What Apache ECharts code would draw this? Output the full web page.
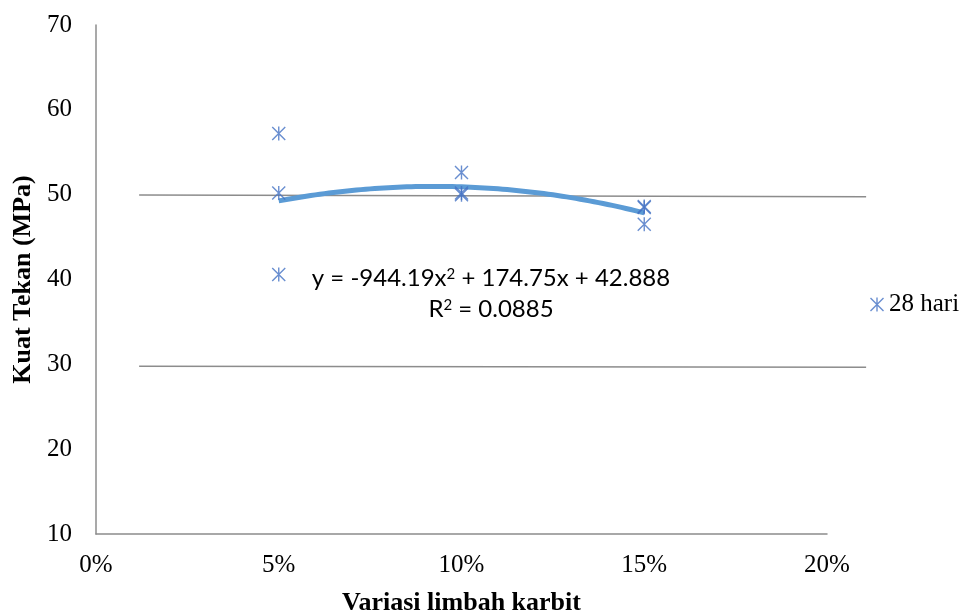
<!DOCTYPE html>
<html>
<head>
<meta charset="utf-8">
<script src="https://cdn.jsdelivr.net/npm/echarts@6/dist/echarts.min.js"></script>
<style>
  html, body { margin: 0; padding: 0; background: #fff; }
  #chart { width: 967px; height: 615px; }
</style>
</head>
<body>
<div id="chart"></div>
<script>
// Compressive strength at 28 days vs. carbide waste content
const limbah = [0.05, 0.05, 0.05, 0.10, 0.10, 0.10, 0.15, 0.15, 0.15];
const kuatTekan = [57.2, 50.2, 40.6, 52.6, 50.0, 50.2, 48.5, 46.5, 48.6];

// Polynomial trendline coefficients (a x^2 + b x + c) and fit quality
const trendCoef = [-944.19, 174.75, 42.888];
const trendR2 = 0.0885;
const trendRange = [0.05, 0.15];

// Hand-drawn guide lines: [x0, y0, x1, y1]
const guideLines = [
  [0.0118, 49.95, 0.2107, 49.75],
  [0.0118, 29.78, 0.2107, 29.66]
];

const yTicks = [10, 20, 30, 40, 50, 60, 70];
const xTicks = [0, 0.05, 0.10, 0.15, 0.20];

const seriesName = '28 hari';
const xTitle = 'Variasi limbah karbit';
const yTitle = 'Kuat Tekan (MPa)';

const starPath = 'path://M5.4 0H6.6V12H5.4Z M0 0.85L0.85 0L12 11.15L11.15 12Z M11.15 0L12 0.85L0.85 12L0 11.15Z';

const scatterData = limbah.map((x, i) => [x, kuatTekan[i]]);

const trendData = [];
for (let k = 0; k <= 40; k++) {
  const x = trendRange[0] + (trendRange[1] - trendRange[0]) * k / 40;
  trendData.push([x, trendCoef[0] * x * x + trendCoef[1] * x + trendCoef[2]]);
}

const fmt = (v, d) => v.toFixed(d);
const eqText = 'y = ' + fmt(trendCoef[0], 2) + 'x{sup|2} + ' + fmt(trendCoef[1], 2) + 'x + ' + fmt(trendCoef[2], 3);
const r2Text = 'R{sup|2} = ' + fmt(trendR2, 4);

const serif = '"Liberation Serif", "Times New Roman", serif';
const sans = 'Lato, "Open Sans", sans-serif';
const axisGray = '#8c8c8c';

const chart = echarts.init(document.getElementById('chart'), null, { renderer: 'canvas' });

chart.setOption({
  animation: false,
  backgroundColor: '#fff',
  grid: { left: 96, top: 25, width: 731, height: 509, outerBoundsMode: 'none', containLabel: false },
  legend: {
    data: [{ name: seriesName, icon: starPath }],
    left: 865,
    top: 287,
    itemWidth: 14,
    itemHeight: 14,
    textStyle: { fontFamily: serif, fontSize: 25, color: '#000' }
  },
  xAxis: {
    type: 'value',
    min: xTicks[0],
    max: xTicks[xTicks.length - 1],
    interval: 0.05,
    name: xTitle,
    nameLocation: 'middle',
    nameGap: 56,
    nameTextStyle: { fontFamily: serif, fontSize: 26, fontWeight: 'bold', color: '#000' },
    axisLine: { lineStyle: { color: axisGray, width: 1.5 } },
    axisTick: { show: false },
    splitLine: { show: false },
    axisLabel: {
      fontFamily: serif, fontSize: 25, color: '#000', margin: 19,
      formatter: v => Math.round(v * 100) + '%'
    }
  },
  yAxis: {
    type: 'value',
    min: yTicks[0],
    max: yTicks[yTicks.length - 1],
    interval: 10,
    name: yTitle,
    nameLocation: 'middle',
    nameGap: 54,
    nameTextStyle: { fontFamily: serif, fontSize: 26, fontWeight: 'bold', color: '#000' },
    axisLine: { show: true, lineStyle: { color: axisGray, width: 1.5 } },
    axisTick: { show: false },
    splitLine: { show: false },
    axisLabel: { fontFamily: serif, fontSize: 25, color: '#000', margin: 24 }
  },
  series: [
    {
      type: 'line',
      name: 'trend',
      data: trendData,
      smooth: true,
      showSymbol: false,
      lineStyle: { color: '#5B9BD5', width: 5 },
      z: 3
    },
    {
      type: 'scatter',
      name: seriesName,
      data: scatterData,
      symbol: starPath,
      symbolSize: 14,
      itemStyle: { color: '#4472C4' },
      z: 4
    }
  ]
});

// Guide lines and the trendline equation, placed through the axes' scales
const toPx = p => chart.convertToPixel({ gridIndex: 0 }, p);
const graphics = guideLines.map(g => {
  const a = toPx([g[0], g[1]]);
  const b = toPx([g[2], g[3]]);
  return {
    type: 'line',
    shape: { x1: a[0], y1: a[1], x2: b[0], y2: b[1] },
    style: { stroke: axisGray, lineWidth: 1.5 },
    silent: true,
    z: 1
  };
});

const supStyle = { fontFamily: sans, fontSize: 15, fill: '#000', verticalAlign: 'top', lineHeight: 15, padding: [4, 0, 0, 0] };
graphics.push({
  type: 'text',
  x: 491,
  y: 263,
  silent: true,
  z: 10,
  style: {
    text: eqText + '\n' + r2Text,
    fontFamily: sans,
    fontSize: 24,
    fill: '#000',
    align: 'center',
    lineHeight: 31,
    rich: { sup: supStyle }
  }
});

chart.setOption({ graphic: graphics });
</script>
</body>
</html>
